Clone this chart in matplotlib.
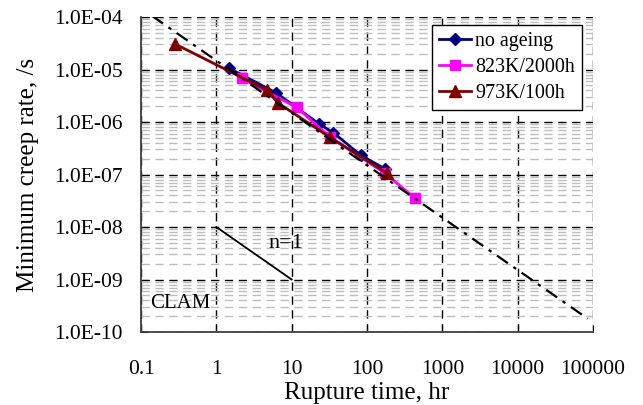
import numpy as np
import matplotlib.pyplot as plt
from matplotlib.ticker import LogLocator, FuncFormatter, NullFormatter

plt.rcParams['font.family'] = ['Liberation Serif', 'DejaVu Serif']

# rupture time (hr) and minimum creep rate (1/s)
t_none = [1.49, 6.2, 23.1, 35.8, 82.8, 175]
r_none = [1.05e-5, 3.6e-6, 9.2e-7, 6.25e-7, 2.32e-7, 1.27e-7]

t_823 = [2.17, 11.7, 32.0, 175, 436]
r_823 = [6.8e-6, 1.89e-6, 5.2e-7, 1.05e-7, 3.5e-8]

t_973 = [0.283, 4.67, 6.6, 32.4, 182]
r_973 = [3.06e-5, 4.07e-6, 2.3e-6, 5.1e-7, 1.07e-7]

# slope -1 trend line
t_fit = [0.14, 8.5e4]
r_fit = [1.05e-4, 1.8e-10]

# n=1 reference segment
t_n1 = [1, 10]
r_n1 = [1e-8, 1e-9]

fig = plt.figure(figsize=(6.43, 4.05), dpi=100)
ax = fig.add_axes([0.2193, 0.1802, 0.7029, 0.7778])

ax.plot(t_none, r_none, color='#000080', lw=2, marker='D', ms=6.5,
        label='no ageing', zorder=3)
ax.plot(t_823, r_823, color='#ff00ff', lw=2, marker='s', ms=7.5,
        label='823K/2000h', zorder=4)
ax.plot(t_973, r_973, color='#800000', lw=2, marker='^', ms=8.5,
        label='973K/100h', zorder=5)
ax.plot(t_fit, r_fit, color='black', lw=1.6, dashes=(6, 3, 1.5, 3), zorder=6)
ax.plot(t_n1, r_n1, color='black', lw=1.3, zorder=6)

ax.text(8.4, 4.96e-9, 'n=1', fontsize=16, ha='center', va='center')
ax.text(0.33, 3.56e-10, 'CLAM', fontsize=15, ha='center', va='center')

ax.set_xscale('log')
ax.set_yscale('log')
ax.set_xlim(0.1, 1e5)
ax.set_ylim(1e-10, 1e-4)

ax.xaxis.set_major_locator(LogLocator(base=10, numticks=10))
ax.xaxis.set_minor_locator(LogLocator(base=10, subs=[], numticks=10))
ax.xaxis.set_major_formatter(FuncFormatter(lambda v, p: f'{v:g}' if v < 1 else f'{int(round(v))}'))
ax.yaxis.set_major_locator(LogLocator(base=10, numticks=10))
ax.yaxis.set_minor_locator(LogLocator(base=10, subs=np.arange(2, 10), numticks=10))
ax.yaxis.set_major_formatter(FuncFormatter(lambda v, p: f'{v:.1E}'))
ax.yaxis.set_minor_formatter(NullFormatter())

ax.grid(which='major', axis='both', color='black', lw=1.0, dashes=(6, 4))
ax.grid(which='minor', axis='y', color='#bdbdbd', lw=1.0, dashes=(6, 4))
ax.set_axisbelow(True)

ax.tick_params(which='major', direction='in', length=5, labelsize=15.5, pad=13)
ax.tick_params(which='minor', length=0)
ax.tick_params(axis='x', pad=20)

for s in ['top', 'right']:
    ax.spines[s].set_visible(False)
for s in ['left', 'bottom']:
    ax.spines[s].set_color('#404040')
    ax.spines[s].set_linewidth(1.3)

ax.set_xlabel('Rupture time, hr', fontsize=18, labelpad=2)
ax.set_ylabel('Minimum creep rate, /s', fontsize=18, labelpad=11)

leg = ax.legend(loc='upper right', bbox_to_anchor=(0.976, 0.975), fontsize=14.4,
                frameon=True, fancybox=False, edgecolor='black', framealpha=1,
                borderaxespad=0, handlelength=1.6, handletextpad=0.2,
                labelspacing=0.35, borderpad=0.35)
leg.get_frame().set_linewidth(1.0)

fig.savefig('out.png', dpi=100)
